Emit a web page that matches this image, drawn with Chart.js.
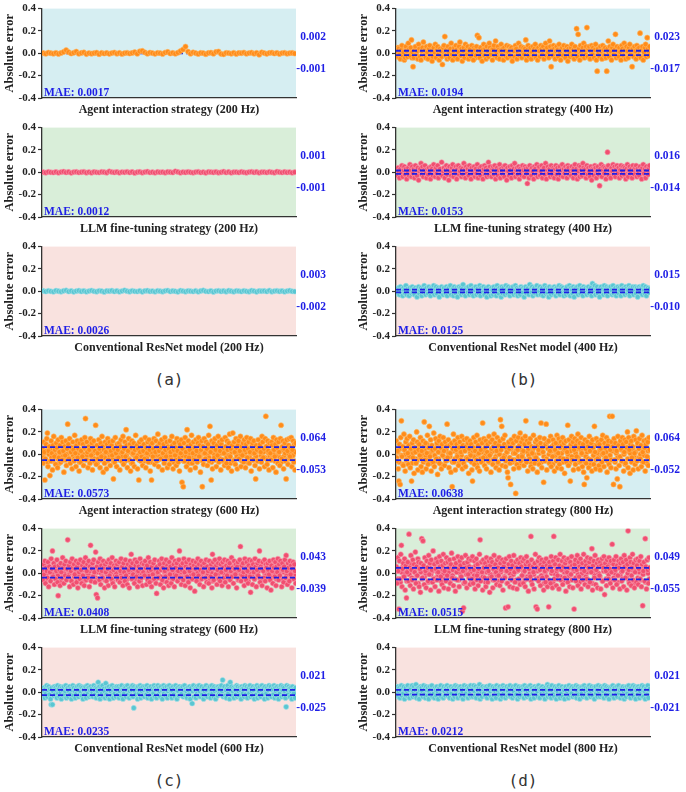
<!DOCTYPE html>
<html>
<head>
<meta charset="utf-8">
<script src="https://cdn.jsdelivr.net/npm/chart.js@4.4.0/dist/chart.umd.min.js"></script>
<style>
body { margin: 0; background: #fff; width: 686px; height: 792px; position: relative; overflow: hidden; }
canvas { position: absolute; }
.tag { position: absolute; width: 100px; text-align: center; font: 16px "DejaVu Sans Mono", monospace; line-height: 20px; color: #333; }
</style>
</head>
<body>
<div class="tag" style="left:119px;top:370px">(a)</div>
<div class="tag" style="left:473px;top:370px">(b)</div>
<div class="tag" style="left:119px;top:771px">(c)</div>
<div class="tag" style="left:473px;top:771px">(d)</div>
<script>
// frequencies and models
var freqs = ['200 Hz', '400 Hz', '600 Hz', '800 Hz'];
var models = ['Agent interaction strategy', 'LLM fine-tuning strategy', 'Conventional ResNet model'];
var yTicks = [-0.4, -0.2, 0.0, 0.2, 0.4];

// MAE and dashed bounds, one value per frequency
var maeAgent = [0.0017, 0.0194, 0.0573, 0.0638];
var maeLlm = [0.0012, 0.0153, 0.0408, 0.0515];
var maeResnet = [0.0026, 0.0125, 0.0235, 0.0212];
var upperAgent = [0.002, 0.023, 0.064, 0.064];
var lowerAgent = [-0.001, -0.017, -0.053, -0.052];
var upperLlm = [0.001, 0.016, 0.043, 0.049];
var lowerLlm = [-0.001, -0.014, -0.039, -0.055];
var upperResnet = [0.003, 0.015, 0.021, 0.021];
var lowerResnet = [-0.002, -0.010, -0.025, -0.021];

// absolute errors
var agent200 = [0.002,-0.004,0.006,0.001,-0.003,0.004,-0.006,0.003,0.012,0.028,0.010,-0.002,0.005,0.015,-0.004,0.003,0.008,-0.007,0.002,-0.003,
 0.001,0.006,-0.008,0.004,-0.002,0.003,-0.005,0.002,0.007,-0.003,0.004,-0.006,0.001,0.005,-0.002,0.003,0.010,-0.004,0.018,0.022,
 0.008,-0.003,0.006,0.002,-0.005,0.004,0.001,-0.006,0.007,0.012,-0.002,0.004,-0.004,0.006,0.020,0.034,0.060,0.015,-0.003,0.008,
 0.002,-0.006,0.004,0.001,-0.008,0.003,0.006,-0.004,0.012,0.016,-0.005,-0.009,0.004,0.002,-0.003,0.005,-0.006,0.003,0.001,0.007,
 -0.004,0.002,0.006,-0.003,0.004,-0.012,0.008,0.002,-0.005,0.003,0.006,-0.002,0.004,-0.006,0.002,0.005,-0.003,0.001,0.004,-0.002];
var llm200 = [0.001,-0.003,0.004,0.000,-0.002,0.003,-0.004,0.002,0.006,-0.001,0.003,-0.005,0.002,0.004,-0.002,0.001,0.005,-0.003,0.002,-0.004,
 0.003,0.000,-0.002,0.004,0.001,-0.003,0.008,0.002,-0.001,0.003,-0.004,0.002,0.000,0.005,-0.002,0.003,-0.006,0.001,0.004,-0.003,
 0.002,0.006,-0.002,0.001,-0.004,0.003,0.000,0.002,-0.003,0.004,0.001,-0.002,0.009,0.003,-0.004,0.002,-0.001,0.004,0.000,-0.003,
 0.002,0.005,-0.002,0.001,-0.005,0.003,0.002,-0.001,0.004,-0.003,0.000,0.006,-0.002,0.003,-0.004,0.001,0.002,-0.002,0.004,0.000,
 -0.003,0.002,0.005,-0.001,0.003,-0.004,0.001,0.002,-0.002,0.004,0.000,-0.003,0.006,0.001,-0.002,0.003,-0.001,0.002,-0.004,0.001];
var resnet200 = [0.003,-0.002,0.005,0.000,-0.004,0.006,0.001,-0.003,0.004,0.008,-0.002,0.003,-0.005,0.002,0.006,-0.001,0.004,-0.004,0.002,0.007,
 0.000,-0.003,0.005,0.002,-0.006,0.003,0.001,0.006,-0.002,0.004,-0.004,0.002,0.009,0.001,-0.003,0.005,0.000,-0.002,0.004,-0.005,
 0.003,0.006,-0.001,0.002,-0.004,0.005,0.001,-0.003,0.004,0.007,-0.002,0.003,0.000,-0.005,0.006,0.002,-0.003,0.004,0.001,-0.002,
 0.005,-0.004,0.003,0.008,0.000,-0.002,0.004,-0.006,0.002,0.005,-0.001,0.003,-0.003,0.006,0.001,-0.004,0.004,0.002,-0.002,0.005,
 0.000,-0.003,0.006,0.002,-0.005,0.003,0.001,0.004,-0.002,0.007,-0.003,0.002,0.005,-0.001,0.003,-0.004,0.002,0.006,0.000,-0.002];

var agent400 = [0.02,-0.03,0.05,0.04,-0.01,-0.05,0.03,0.07,-0.02,0.01,-0.06,-0.04,0.06,0.02,-0.03,0.09,0.04,-0.02,0.05,0.12,
 0.01,-0.12,-0.04,0.03,0.06,-0.01,0.02,-0.05,0.08,0.04,-0.03,-0.06,0.02,0.05,0.10,-0.02,0.03,-0.04,0.06,0.01,
 -0.05,0.04,0.07,-0.02,0.02,-0.07,-0.03,0.05,0.01,0.08,-0.04,0.03,0.06,-0.01,-0.06,0.04,0.02,-0.03,-0.10,0.05,
 0.07,0.15,-0.02,0.03,-0.05,0.06,0.01,-0.04,0.04,0.09,-0.01,-0.06,0.02,0.05,-0.03,0.07,0.03,-0.05,0.01,0.06,
 0.10,-0.02,0.04,-0.07,0.02,0.05,-0.04,0.08,0.03,-0.01,0.06,-0.05,0.02,0.04,-0.03,0.07,0.01,-0.06,0.05,0.03,
 -0.02,0.06,0.16,0.02,0.14,-0.04,0.05,0.01,-0.07,0.03,0.08,-0.02,0.04,-0.05,0.06,0.02,-0.03,0.09,0.05,-0.01,
 0.03,-0.06,0.04,0.07,-0.02,0.11,0.01,-0.04,0.06,0.03,-0.05,0.02,0.08,-0.01,0.04,-0.06,0.05,0.02,-0.03,0.07,
 -0.04,0.01,0.06,-0.02,0.04,0.05,-0.07,0.03,0.02,-0.03,0.07,0.04,-0.05,0.01,0.09,-0.02,0.03,0.06,-0.04,0.02,
 0.05,-0.01,0.04,0.12,-0.06,0.03,0.07,-0.03,0.02,0.05,-0.05,0.01,0.06,-0.02,0.04,0.08,-0.04,0.03,-0.06,0.05,
 0.02,-0.03,0.07,0.04,-0.01,0.06,-0.05,0.03,0.09,-0.02,0.05,0.01,-0.04,0.11,0.06,-0.12,0.03,-0.02,0.07,0.04,
 -0.05,0.02,0.06,0.03,-0.03,0.08,0.01,-0.06,0.04,0.05,-0.02,0.07,0.03,-0.04,0.02,0.06,-0.07,0.04,0.01,-0.03,
 0.05,0.08,-0.02,0.03,-0.05,0.06,0.02,0.22,-0.03,0.17,0.04,-0.06,0.07,0.01,-0.02,0.05,0.09,-0.04,0.03,0.06,
 0.23,-0.03,0.04,0.06,-0.05,0.02,0.07,-0.01,0.05,-0.04,0.03,0.08,-0.06,-0.16,0.04,0.01,-0.03,0.06,0.02,-0.05,
 0.07,0.03,-0.02,0.05,-0.04,-0.16,0.04,0.11,-0.03,0.06,0.02,-0.06,0.05,0.08,-0.01,0.03,0.17,-0.04,0.06,0.02,
 -0.03,0.05,0.01,-0.06,0.07,0.04,-0.02,0.09,0.03,-0.05,0.06,0.02,-0.04,0.05,0.08,-0.01,0.03,-0.12,0.04,-0.03,
 0.06,0.02,-0.05,0.07,0.04,-0.02,0.05,0.18,-0.04,0.03,0.06,-0.06,0.01,0.05,0.08,-0.03,0.14,0.04,-0.02,0.06];
var agent400Core = [-0.01,0.02,-0.03,0.00,0.03,-0.02,0.01,-0.04,0.02,0.00,-0.03,0.04,-0.01,0.01,-0.02,0.03,-0.04,0.00,0.02,-0.01,
 0.03,-0.03,0.01,-0.02,0.04,0.00,-0.04,0.02,-0.01,0.03,-0.02,0.01,0.00,-0.03,0.04,-0.01,0.02,-0.04,0.01,0.03,
 -0.02,0.00,0.03,-0.03,0.01,-0.01,0.04,-0.02,0.02,-0.04,0.00,0.03,-0.01,0.01,-0.03,0.02,0.04,-0.02,0.00,-0.01,
 0.02,-0.04,0.01,0.03,-0.02,0.00,-0.03,0.04,-0.01,0.02,0.01,-0.03,0.03,-0.02,0.00,0.04,-0.04,0.01,-0.01,0.02,
 -0.03,0.03,0.00,-0.02,0.01,0.04,-0.01,-0.04,0.02,0.00,0.03,-0.03,0.01,-0.02,0.04,-0.01,0.02,0.00,-0.04,0.03,
 0.01,-0.02,0.03,-0.01,0.00,-0.03,0.04,0.02,-0.04,0.01,-0.02,0.03,0.00,-0.01,0.02,-0.03,0.04,-0.02,0.01,0.00];
var llm400 = [0.02,-0.03,0.04,0.01,-0.05,0.03,-0.01,0.06,-0.04,0.02,0.05,-0.02,0.03,-0.06,0.01,0.04,-0.03,0.07,0.02,-0.04,
 0.05,-0.01,0.03,-0.05,0.06,0.02,-0.03,0.04,-0.07,0.01,0.03,0.08,-0.02,0.05,-0.04,0.02,0.06,-0.01,-0.05,0.03,
 -0.02,0.04,0.01,-0.06,0.05,0.03,-0.03,0.07,0.02,-0.04,0.04,-0.01,0.06,-0.05,0.02,0.03,-0.02,0.09,-0.03,0.01,
 0.04,-0.05,0.02,0.06,-0.02,0.03,-0.07,0.05,0.01,-0.03,0.04,0.07,-0.04,0.02,-0.01,0.05,-0.06,0.03,0.06,-0.02,
 0.01,0.04,-0.04,0.03,-0.02,0.08,0.02,-0.05,0.05,-0.01,0.03,-0.03,0.06,0.02,-0.06,0.04,0.01,-0.02,0.05,-0.04,
 0.03,-0.01,0.07,-0.05,0.02,0.04,-0.03,0.05,0.01,-0.06,0.03,0.06,-0.02,0.04,-0.04,0.02,0.09,-0.03,0.05,0.01,
 -0.04,0.03,0.05,-0.02,0.06,-0.06,0.01,0.04,-0.03,0.02,0.07,-0.05,0.03,0.01,-0.02,0.05,-0.04,0.06,0.02,-0.07,
 0.04,0.01,-0.03,0.05,0.02,-0.05,0.06,-0.01,0.03,0.08,-0.04,0.02,0.04,-0.02,0.05,-0.06,0.03,0.01,-0.03,0.06,
 0.02,-0.04,0.05,0.03,-0.01,-0.10,0.04,-0.05,0.06,0.02,-0.03,0.04,0.01,-0.06,0.05,0.03,-0.02,0.07,-0.04,0.02,
 0.05,-0.03,0.01,0.06,-0.05,0.03,0.04,-0.02,0.08,-0.06,0.02,0.05,-0.01,0.03,-0.04,0.06,0.01,-0.03,0.04,-0.05,
 0.03,0.06,-0.02,0.04,-0.06,0.01,0.05,-0.03,0.02,0.07,-0.04,0.03,-0.01,0.05,0.02,-0.05,0.06,0.04,-0.02,0.01,
 -0.03,0.05,0.02,-0.05,0.04,0.07,-0.02,0.03,-0.06,0.01,0.06,-0.04,0.05,0.02,-0.03,0.08,0.04,-0.01,0.03,-0.05,
 0.06,-0.02,0.04,0.01,-0.04,0.05,-0.07,0.03,0.02,-0.03,0.06,0.04,-0.05,0.01,0.05,-0.02,-0.12,0.03,0.07,-0.04,
 0.02,0.05,-0.01,0.04,-0.06,0.03,0.18,0.06,-0.03,0.02,-0.05,0.04,0.01,0.07,-0.02,0.05,-0.04,0.03,0.06,-0.01,
 0.04,-0.05,0.02,0.06,-0.03,0.01,0.05,-0.02,0.04,-0.06,0.03,0.07,-0.04,0.02,0.05,-0.01,0.03,-0.05,0.06,0.02,
 -0.02,0.04,0.06,-0.04,0.03,0.01,-0.03,0.05,0.02,-0.06,0.04,0.07,-0.01,0.03,-0.05,0.05,0.02,-0.02,0.04,0.06];
var llm400Core = [0.01,-0.02,0.03,-0.01,0.00,0.02,-0.03,0.01,-0.02,0.03,0.00,-0.01,0.02,-0.03,0.01,0.00,-0.02,0.03,-0.01,0.02,
 -0.03,0.00,0.01,-0.02,0.03,-0.01,0.02,0.00,-0.03,0.01,-0.02,0.03,0.00,-0.01,0.02,-0.03,0.01,-0.02,0.00,0.03,
 -0.01,0.02,-0.03,0.00,0.01,-0.02,0.03,-0.01,0.00,0.02,-0.03,0.01,0.03,-0.02,0.00,-0.01,0.02,-0.03,0.01,0.00,
 0.03,-0.02,0.01,-0.01,0.00,0.02,-0.03,0.03,-0.02,0.01,0.00,-0.01,0.02,-0.03,0.01,0.03,-0.02,0.00,-0.01,0.02,
 -0.03,0.01,0.00,0.03,-0.02,0.02,-0.01,0.00,-0.03,0.01,0.02,-0.02,0.03,0.00,-0.01,0.01,-0.03,0.02,0.00,-0.02,
 0.03,-0.01,0.01,0.00,-0.02,0.02,-0.03,0.01,0.03,-0.01,0.00,-0.02,0.02,-0.03,0.01,0.00,0.03,-0.02,0.01,-0.01];
var resnet400 = [0.02,-0.02,0.03,0.01,-0.03,0.04,-0.01,0.02,-0.04,0.03,0.01,-0.02,0.05,-0.03,0.02,0.00,-0.04,0.03,0.01,-0.02,
 0.04,-0.01,0.02,-0.03,0.03,0.01,-0.05,0.02,0.04,-0.02,0.01,0.03,-0.04,0.02,-0.01,0.05,0.02,-0.03,0.03,0.00,
 -0.02,0.04,0.01,-0.04,0.03,0.02,-0.01,0.05,-0.03,0.02,0.04,-0.02,0.01,0.03,-0.05,0.02,-0.01,0.04,0.01,-0.03,
 0.03,0.00,-0.02,0.04,-0.04,0.02,0.03,-0.01,0.05,-0.03,0.01,0.02,-0.04,0.04,0.01,-0.02,0.03,-0.05,0.02,0.04,
 -0.01,0.03,-0.03,0.02,0.06,-0.02,0.01,-0.04,0.03,0.02,-0.01,0.04,-0.03,0.01,0.05,-0.02,0.02,-0.04,0.03,0.01,
 0.04,-0.03,0.02,0.00,-0.02,0.05,-0.04,0.03,0.01,-0.01,0.04,-0.03,0.02,0.03,-0.05,0.01,0.04,-0.02,0.02,-0.04,
 0.03,0.01,-0.03,0.04,-0.01,0.02,-0.04,0.05,0.02,-0.02,0.03,0.01,-0.05,0.04,-0.02,0.03,0.00,-0.03,0.05,0.02,
 -0.02,0.04,0.01,-0.04,0.03,-0.01,0.02,0.04,-0.03,0.01,0.05,-0.02,0.03,-0.04,0.02,0.01,-0.03,0.04,0.02,-0.01,
 0.03,-0.05,0.02,0.04,-0.02,0.01,0.03,-0.03,0.06,0.02,-0.01,0.04,-0.04,0.02,0.03,-0.02,0.01,0.05,-0.03,0.02,
 0.00,0.04,-0.03,0.02,0.03,-0.04,0.01,0.05,-0.02,0.03,-0.01,0.02,-0.05,0.04,0.01,-0.03,0.03,0.02,-0.02,0.04,
 0.02,-0.04,0.03,0.01,-0.02,0.05,-0.03,0.02,0.04,-0.01,0.03,-0.04,0.01,0.02,-0.03,0.04,0.00,-0.02,0.05,-0.04,
 0.03,0.01,-0.02,0.04,-0.05,0.02,0.03,-0.01,0.04,-0.03,0.02,0.05,-0.02,0.01,0.03,-0.04,0.04,0.02,-0.01,0.03,
 -0.03,0.02,0.04,-0.02,0.01,0.03,-0.04,0.07,0.02,-0.01,0.05,-0.03,0.02,0.04,-0.02,0.01,-0.05,0.03,0.04,-0.01,
 0.02,-0.03,0.05,0.01,-0.02,0.04,-0.04,0.03,0.02,-0.01,0.04,0.01,-0.03,0.05,-0.02,0.02,0.03,-0.04,0.01,0.04,
 -0.02,0.03,0.01,-0.04,0.05,0.02,-0.01,0.03,-0.03,0.04,0.02,-0.02,0.01,0.05,-0.04,0.03,0.02,-0.01,0.04,-0.03,
 0.01,0.04,-0.02,0.03,-0.05,0.02,0.04,-0.01,0.03,0.02,-0.03,0.05,0.01,-0.02,0.04,-0.04,0.02,0.03,-0.01,0.02];

var agent600 = [0.05,-0.08,0.11,0.02,-0.23,-0.04,0.09,0.14,0.19,-0.11,0.03,0.07,-0.19,-0.06,0.12,0.01,-0.14,0.08,0.16,-0.02,
 0.04,-0.09,0.10,0.06,-0.12,0.13,-0.03,0.02,0.08,-0.07,0.15,-0.05,0.11,0.03,-0.16,0.07,-0.01,0.12,-0.10,0.05,
 0.27,0.09,-0.04,0.14,-0.08,0.02,0.06,-0.13,0.11,0.04,-0.06,0.17,0.01,-0.11,0.08,0.12,-0.03,0.05,-0.15,0.10,
 -0.07,0.03,0.13,-0.02,0.09,-0.10,0.06,0.15,0.32,-0.05,0.11,0.02,-0.12,0.07,0.04,-0.08,0.14,-0.01,0.10,-0.14,
 0.06,0.12,-0.06,0.03,0.26,-0.09,0.08,0.01,-0.04,0.13,0.05,-0.12,0.10,-0.02,0.16,0.07,-0.16,0.04,-0.08,0.11,
 0.02,-0.13,0.09,0.14,-0.05,0.06,0.11,-0.10,0.03,0.08,-0.01,0.12,-0.22,0.05,-0.07,0.15,0.01,-0.11,0.09,0.04,
 -0.03,0.10,-0.14,0.07,0.13,-0.06,0.02,0.16,-0.09,0.05,0.11,-0.02,0.22,0.08,-0.12,0.03,0.14,-0.05,0.09,-0.15,
 0.06,0.12,-0.08,0.01,0.10,-0.11,0.04,0.17,-0.03,0.08,-0.13,0.05,-0.23,0.11,0.02,-0.06,0.13,0.07,-0.10,0.03,
 0.09,-0.04,0.15,-0.12,0.06,0.01,0.11,-0.07,0.13,0.04,-0.15,0.08,-0.23,0.10,-0.02,0.05,0.14,-0.09,0.02,0.12,
 -0.06,0.07,0.18,-0.11,0.03,0.10,-0.04,0.06,0.13,-0.14,0.01,0.09,-0.08,0.15,0.04,-0.02,0.11,-0.12,0.07,0.05,
 -0.09,0.12,0.02,-0.05,0.16,0.08,-0.13,0.04,0.10,-0.01,0.06,-0.10,0.14,0.03,-0.07,0.11,-0.15,0.09,0.01,0.13,
 -0.25,0.05,-0.29,0.10,-0.06,0.15,0.02,-0.11,0.22,0.07,0.12,-0.03,0.04,-0.14,0.09,0.17,-0.08,0.01,0.11,-0.05,
 0.06,-0.12,0.13,0.03,-0.07,0.10,0.15,-0.02,0.08,-0.16,0.04,0.12,-0.29,0.07,-0.09,0.14,0.01,-0.04,0.11,0.05,
 -0.10,0.09,0.17,-0.06,0.25,0.02,-0.23,0.12,-0.13,0.06,0.10,-0.03,0.14,0.04,-0.11,0.08,-0.01,0.16,-0.07,0.11,
 0.03,-0.14,0.09,0.13,-0.05,0.06,0.01,-0.10,0.15,0.07,-0.08,0.12,0.04,-0.12,0.10,0.18,-0.02,0.05,-0.15,0.08,
 0.19,-0.06,0.11,0.02,-0.09,0.14,0.06,-0.13,0.08,0.12,-0.04,0.03,0.16,-0.11,0.07,-0.01,0.10,-0.07,0.13,0.04,
 -0.12,0.09,0.15,-0.03,0.05,0.11,-0.08,0.02,0.14,-0.15,0.07,0.10,-0.05,0.12,0.01,-0.10,-0.22,0.08,0.04,-0.06,
 0.13,0.06,-0.13,0.09,0.02,-0.07,0.16,0.11,-0.03,0.05,-0.11,0.14,0.34,0.07,-0.09,0.12,0.03,-0.14,0.10,0.01,
 -0.05,0.11,0.08,-0.12,0.15,0.04,-0.02,0.09,-0.16,0.13,0.06,-0.08,0.11,0.02,-0.10,0.14,0.26,-0.04,0.07,0.12,
 -0.13,0.05,0.10,-0.06,-0.22,0.13,0.03,-0.09,0.08,0.14,-0.02,0.06,0.15,-0.11,0.04,0.12,-0.07,0.09,-0.14,0.10];
var agent600Core = [-0.02,0.01,-0.05,0.03,-0.07,0.00,0.04,-0.03,-0.06,0.02,-0.01,0.05,-0.04,-0.08,0.01,0.03,-0.02,0.06,-0.05,0.00,
 -0.03,0.04,-0.06,0.02,-0.01,-0.04,0.07,-0.02,0.01,-0.07,0.03,-0.05,0.00,0.05,-0.03,-0.01,0.02,-0.06,0.04,-0.02,
 0.01,-0.04,0.03,-0.08,0.00,0.02,-0.05,0.06,-0.01,-0.03,0.04,-0.06,0.01,-0.02,0.05,-0.04,-0.07,0.02,0.00,-0.03,
 0.03,-0.05,0.01,-0.02,0.06,-0.06,-0.01,0.04,-0.04,0.02,-0.08,0.00,0.03,-0.03,0.05,-0.01,-0.05,0.02,-0.02,0.07,
 -0.06,0.01,-0.03,0.04,0.00,-0.07,0.02,-0.04,0.05,-0.01,0.03,-0.05,-0.02,0.06,-0.03,0.01,-0.06,0.04,0.00,-0.04,
 0.02,-0.02,0.05,-0.07,0.01,-0.05,0.03,0.00,-0.03,0.06,-0.01,-0.06,0.04,-0.02,0.02,-0.08,0.01,-0.04,0.05,-0.03,
 0.00,0.03,-0.05,0.02,-0.02,0.07,-0.06,0.01,-0.04,0.04,-0.01,-0.03,0.06,-0.07,0.02,0.00,-0.05,0.03,-0.02,0.05,
 -0.04,0.01,-0.06,0.03,0.00,-0.03,0.05,-0.01,-0.08,0.02,0.04,-0.05,0.01,-0.02,0.06,-0.04,0.00,-0.06,0.03,-0.01,
 0.02,-0.07,0.04,-0.03,0.01,0.05,-0.05,0.00,-0.02,0.03,-0.06,0.06,-0.01,-0.04,0.02,-0.03,0.07,-0.05,0.01,-0.02,
 -0.04,0.03,0.00,-0.06,0.05,-0.01,0.02,-0.03,-0.07,0.04,-0.02,0.01,-0.05,0.06,0.00,-0.04,0.03,-0.01,-0.06,0.02];
var llm600 = [0.03,-0.06,0.08,-0.01,0.11,-0.09,0.05,0.02,-0.04,0.10,-0.12,0.06,0.01,-0.07,0.13,0.04,0.20,-0.03,0.09,-0.10,
 0.06,-0.05,0.02,0.12,-0.08,-0.20,0.07,0.03,-0.11,0.09,0.01,-0.04,0.14,0.05,-0.09,0.08,-0.02,0.11,-0.06,0.04,
 0.30,-0.03,0.07,-0.12,0.10,0.02,-0.07,0.13,0.05,-0.10,0.08,-0.01,0.04,0.11,-0.08,0.06,-0.13,0.09,0.01,-0.05,
 0.12,0.03,-0.09,0.07,-0.02,0.10,-0.11,0.05,0.14,-0.06,0.02,0.08,-0.04,0.11,-0.12,0.06,0.25,-0.07,0.04,0.09,
 -0.03,0.12,0.01,-0.08,0.19,-0.19,0.06,-0.22,0.10,0.03,-0.06,0.13,-0.10,0.07,0.02,-0.04,0.11,0.05,-0.13,0.08,
 0.01,-0.07,0.10,0.04,-0.11,0.12,-0.02,0.06,0.09,-0.05,0.14,-0.09,0.03,0.07,-0.12,0.05,0.11,-0.03,0.08,-0.06,
 0.04,0.10,-0.08,0.02,0.13,-0.04,0.06,-0.11,0.09,0.01,-0.07,0.12,-0.02,0.05,-0.10,0.08,0.03,-0.13,0.11,0.06,
 0.17,-0.05,0.09,-0.01,0.04,-0.09,0.12,0.07,-0.03,0.10,-0.12,0.02,0.06,-0.07,0.13,0.04,-0.04,0.09,-0.11,0.01,
 0.08,-0.02,0.11,0.05,-0.10,0.07,-0.06,0.14,0.02,-0.08,0.10,0.03,-0.12,0.06,-0.01,0.09,-0.05,0.12,0.04,-0.09,
 -0.18,0.06,0.01,-0.04,0.11,0.08,-0.10,0.03,0.13,-0.06,0.05,-0.13,0.09,0.02,-0.03,0.12,-0.08,0.07,0.04,-0.11,
 0.10,-0.01,0.06,-0.09,0.14,0.03,-0.05,0.08,-0.12,0.11,0.05,-0.02,0.09,-0.07,0.02,0.12,0.20,-0.04,0.07,-0.10,
 0.03,0.09,-0.06,0.13,0.01,-0.11,0.06,0.10,-0.03,0.04,-0.08,0.12,0.02,-0.13,0.08,0.05,-0.05,0.11,-0.01,0.07,
 -0.16,0.04,0.10,-0.07,0.06,0.13,-0.02,0.08,-0.10,0.03,0.11,-0.05,0.07,0.01,-0.12,0.09,0.05,-0.04,0.12,-0.08,
 0.06,0.02,-0.09,0.11,0.04,-0.03,0.08,-0.13,0.17,0.10,-0.06,0.05,0.12,-0.01,0.07,-0.10,0.03,0.09,-0.05,0.13,
 -0.07,0.08,0.01,-0.11,0.10,0.05,-0.04,0.12,-0.08,0.03,0.07,-0.02,0.11,-0.12,0.06,0.09,-0.06,0.02,0.14,-0.03,
 0.05,-0.09,0.11,0.04,-0.01,0.08,-0.13,0.06,0.10,-0.05,0.03,0.12,0.24,-0.07,0.07,-0.02,0.09,0.01,-0.11,0.13,
 0.04,-0.06,0.10,0.02,-0.09,0.07,0.12,-0.03,-0.17,0.05,0.11,-0.10,0.08,0.01,-0.05,0.13,0.06,-0.12,0.03,0.09,
 -0.02,0.11,0.20,-0.08,0.06,0.04,-0.11,0.10,0.02,-0.04,0.12,-0.07,0.08,0.05,-0.13,0.09,0.03,-0.01,0.11,-0.06,
 -0.15,0.07,0.02,-0.09,0.12,0.05,-0.03,0.10,-0.11,0.06,0.01,0.13,-0.06,0.08,-0.02,0.11,0.04,-0.12,0.09,0.03,
 -0.08,0.06,0.12,-0.04,0.16,0.02,-0.10,0.09,0.05,-0.07,0.11,-0.01,0.07,-0.13,0.04,0.10,-0.05,0.08,0.02,-0.09];
var llm600Core = [0.01,-0.03,0.04,-0.05,0.00,0.02,-0.06,0.03,-0.01,0.05,-0.04,0.01,-0.02,0.06,-0.07,0.02,-0.03,0.00,0.04,-0.05,
 0.03,-0.01,-0.06,0.02,0.05,-0.03,0.00,-0.04,0.06,-0.02,0.01,-0.05,0.03,-0.07,0.04,0.00,-0.01,0.02,-0.06,0.05,
 -0.02,0.03,-0.04,0.01,-0.05,0.06,0.00,-0.03,0.02,-0.06,0.04,-0.01,0.05,-0.04,0.01,-0.07,0.03,-0.02,0.00,0.06,
 -0.05,0.02,-0.01,0.04,-0.03,0.00,-0.06,0.05,0.01,-0.04,0.03,-0.02,0.06,-0.05,0.02,-0.01,0.04,-0.07,0.00,0.03,
 -0.03,0.05,-0.04,0.01,-0.02,0.06,-0.06,0.02,0.00,-0.05,0.04,-0.01,0.03,-0.03,0.05,-0.07,0.01,-0.02,0.04,-0.04,
 0.02,0.00,-0.05,0.06,-0.01,0.03,-0.06,0.04,-0.02,0.01,-0.04,0.05,0.00,-0.03,0.02,-0.07,0.06,-0.01,0.03,-0.05,
 0.04,-0.02,0.01,-0.06,0.05,-0.03,0.00,0.02,-0.04,0.06,-0.01,-0.05,0.03,0.01,-0.07,0.04,-0.02,0.05,-0.03,0.00,
 -0.06,0.02,0.04,-0.01,-0.04,0.05,0.01,-0.05,0.03,-0.02,0.06,0.00,-0.03,0.02,-0.06,0.04,-0.01,0.01,-0.04,0.05,
 -0.02,0.03,-0.07,0.00,0.04,-0.03,0.06,-0.05,0.01,-0.01,0.02,-0.04,0.05,-0.06,0.03,0.00,-0.02,0.04,-0.05,0.01,
 0.06,-0.03,0.02,-0.01,-0.05,0.03,0.00,-0.04,0.05,-0.06,0.01,0.04,-0.02,0.02,-0.07,0.03,-0.03,0.06,0.00,-0.01];
var resnet600 = [0.02,-0.03,0.04,0.01,-0.05,0.03,-0.01,0.06,-0.04,0.02,0.05,-0.02,0.03,-0.06,-0.11,0.04,-0.11,0.01,-0.03,0.05,
 -0.02,0.04,0.02,-0.05,0.06,-0.01,0.03,-0.04,0.05,0.00,-0.06,0.04,0.02,-0.03,0.05,-0.02,0.01,0.06,-0.05,0.03,
 0.04,-0.04,0.01,0.05,-0.02,0.03,-0.06,0.02,0.06,-0.03,0.04,0.01,-0.05,0.03,-0.01,0.05,0.02,-0.04,0.06,-0.02,
 0.01,0.05,-0.03,0.04,-0.06,0.02,0.03,-0.02,0.05,-0.05,0.01,0.06,-0.01,0.04,-0.04,0.02,0.05,-0.03,0.03,0.00,
 -0.04,0.06,0.02,-0.02,0.04,-0.05,0.03,0.01,0.09,-0.03,0.05,-0.06,0.02,0.04,-0.01,0.06,-0.04,0.03,0.01,-0.05,
 0.08,-0.02,0.04,-0.04,0.02,0.05,-0.06,0.03,0.01,-0.03,0.06,0.02,-0.05,0.04,-0.01,0.03,-0.04,0.05,0.02,-0.02,
 0.05,-0.05,0.01,0.04,-0.03,0.06,0.02,-0.06,0.03,-0.01,0.05,0.04,-0.04,0.02,0.06,-0.02,0.03,-0.05,0.01,0.04,
 -0.03,0.02,0.06,-0.04,-0.14,0.05,0.01,-0.02,0.04,0.03,-0.06,0.05,-0.01,0.02,0.06,-0.05,0.04,0.01,-0.03,0.05,
 0.02,-0.04,0.05,0.03,-0.02,0.06,-0.05,0.01,0.04,-0.03,0.02,0.05,-0.06,0.03,0.01,-0.01,0.06,-0.04,0.04,0.02,
 -0.05,0.03,0.06,-0.02,0.04,0.01,-0.04,0.05,0.02,-0.06,0.03,0.06,-0.01,0.04,-0.03,0.02,0.05,-0.05,0.01,0.03,
 0.06,-0.03,0.02,0.04,-0.05,0.01,0.05,-0.02,0.03,-0.04,0.06,0.02,-0.06,0.04,0.01,-0.03,0.05,0.03,-0.02,0.04,
 -0.01,0.05,-0.04,0.02,0.06,-0.03,0.03,0.01,-0.05,0.04,0.02,-0.02,0.05,-0.06,0.03,0.04,-0.10,0.01,0.06,-0.04,
 0.03,0.02,-0.05,0.05,-0.01,0.04,-0.03,0.06,0.01,-0.04,0.03,0.05,-0.02,0.02,-0.06,0.04,0.01,-0.03,0.06,0.02,
 -0.04,0.04,0.03,-0.02,0.05,-0.05,0.02,0.06,-0.01,0.03,-0.04,0.05,0.01,-0.06,0.04,0.02,-0.03,0.05,0.03,-0.01,
 0.04,-0.02,0.06,0.01,0.11,-0.04,0.03,0.05,-0.03,0.02,-0.05,0.04,0.06,-0.01,0.03,-0.06,0.09,0.02,0.05,-0.03,
 0.01,0.04,-0.05,0.03,0.02,-0.02,0.06,-0.04,0.05,0.01,-0.03,0.04,0.02,-0.06,0.05,0.03,-0.01,0.04,-0.04,0.06,
 -0.02,0.03,0.05,-0.05,0.02,0.04,-0.01,0.06,-0.04,0.03,0.01,-0.03,0.05,0.02,-0.06,0.04,0.03,-0.02,0.06,-0.05,
 0.04,0.01,-0.03,0.05,-0.04,0.02,0.06,-0.02,0.03,0.04,-0.06,0.05,0.01,-0.01,0.04,-0.05,0.02,0.06,-0.03,0.03,
 0.05,-0.04,0.02,0.03,-0.02,0.06,-0.05,0.04,0.01,-0.03,0.05,0.02,-0.06,0.04,-0.01,0.03,0.06,-0.04,0.02,0.05,
 -0.03,0.04,0.01,-0.05,-0.13,0.06,0.02,-0.02,0.05,0.03,-0.04,0.04,0.01,-0.06,0.05,0.02,-0.01,0.03,-0.05,0.04];

var agent800 = [0.12,-0.06,0.03,-0.13,-0.24,0.09,-0.27,0.15,0.30,-0.02,0.07,-0.10,0.18,0.04,-0.15,0.11,-0.05,0.14,0.01,-0.09,
 0.08,0.16,-0.12,0.05,-0.24,0.10,-0.03,0.13,-0.17,0.06,0.02,-0.08,0.20,0.11,-0.14,0.04,0.09,-0.01,0.15,-0.11,
 0.03,-0.16,0.12,0.07,0.29,-0.05,0.10,-0.13,0.01,0.17,-0.09,0.06,0.25,-0.02,0.13,-0.15,0.08,0.04,-0.07,0.19,
 -0.11,0.05,0.14,-0.04,0.10,-0.18,0.02,0.12,-0.08,0.16,0.06,-0.13,0.09,-0.01,0.15,0.03,-0.10,0.11,-0.06,0.07,
 0.27,-0.03,0.13,-0.12,0.08,0.01,-0.16,0.10,-0.29,0.05,0.18,-0.07,0.12,-0.14,0.04,0.09,-0.02,0.15,-0.10,0.06,
 0.11,-0.05,0.02,0.16,-0.13,0.08,-0.08,0.13,0.03,-0.11,0.07,0.14,-0.04,0.10,-0.17,0.05,0.12,-0.01,0.09,-0.14,
 -0.24,0.06,0.15,-0.09,0.03,0.11,-0.05,0.17,-0.12,0.08,0.01,-0.15,0.13,0.04,-0.07,0.10,0.28,-0.03,0.14,-0.10,
 0.06,0.12,-0.13,0.02,0.09,-0.06,0.16,-0.01,0.11,-0.16,0.05,0.13,-0.09,0.07,0.18,-0.04,0.10,-0.12,0.03,0.15,
 -0.07,0.08,-0.14,0.12,0.31,0.04,0.25,-0.10,0.14,-0.03,0.09,0.17,-0.11,0.06,0.02,-0.16,-0.21,0.11,0.05,-0.08,
 -0.27,0.13,0.07,-0.05,0.10,-0.13,0.16,0.01,-0.35,0.12,-0.09,0.04,0.15,-0.12,0.08,0.19,-0.06,0.11,-0.02,0.14,
 0.03,-0.10,0.09,0.16,0.30,-0.07,0.12,-0.15,0.05,0.10,-0.04,0.14,-0.11,0.07,0.01,-0.13,0.17,0.06,-0.08,0.11,
 -0.03,0.13,-0.16,0.08,0.04,-0.09,0.15,0.10,0.28,-0.12,0.06,0.02,-0.25,0.14,-0.06,0.09,0.27,-0.14,0.11,0.05,
 0.12,-0.08,0.03,0.16,-0.11,0.07,-0.02,0.13,0.09,-0.15,0.04,0.10,-0.06,0.17,-0.12,0.01,0.14,-0.09,0.06,0.11,
 -0.13,0.08,0.15,-0.04,0.10,-0.17,0.05,0.12,-0.07,0.02,0.26,-0.10,0.13,0.07,-0.24,0.09,0.16,-0.05,0.11,-0.14,
 0.04,0.14,-0.09,0.08,-0.02,0.12,0.18,-0.13,0.06,0.10,-0.06,0.15,0.01,-0.11,0.09,-0.16,-0.27,0.13,0.05,-0.08,
 -0.21,0.11,0.07,-0.12,0.16,0.03,-0.05,0.10,-0.15,0.13,0.06,-0.09,0.25,0.02,-0.13,0.14,0.08,-0.04,0.11,-0.10,
 0.09,-0.14,0.05,0.13,-0.07,0.17,0.01,-0.11,0.10,0.06,-0.03,0.15,-0.16,0.08,0.12,-0.09,0.34,0.04,-0.12,0.11,
 0.34,0.07,-0.27,0.14,-0.05,0.10,-0.13,0.03,-0.22,0.16,0.08,-0.10,-0.29,0.12,0.05,-0.06,0.15,0.09,-0.15,0.02,
 0.13,-0.08,0.11,0.06,0.20,-0.12,0.15,0.04,-0.17,0.09,0.12,-0.03,0.07,-0.14,0.16,0.01,-0.09,0.13,0.21,-0.06,
 0.10,-0.13,0.05,0.14,-0.04,0.08,-0.11,0.17,0.02,-0.07,0.12,0.06,-0.15,0.09,0.13,-0.02,0.11,-0.10,0.15,0.04];
var agent800Core = [-0.03,0.02,-0.07,0.05,-0.01,-0.09,0.04,0.00,-0.05,0.07,-0.02,0.03,-0.08,0.01,0.06,-0.04,-0.06,0.02,0.08,-0.03,
 0.00,-0.07,0.04,-0.02,0.09,-0.05,0.01,-0.08,0.03,0.05,-0.01,-0.06,0.07,-0.04,0.02,-0.09,0.00,0.06,-0.03,0.04,
 -0.05,0.01,-0.02,0.08,-0.07,0.03,-0.04,0.05,0.00,-0.08,0.02,-0.01,0.06,-0.06,0.04,-0.03,0.09,-0.05,0.01,-0.07,
 0.03,-0.02,0.05,-0.09,0.00,0.07,-0.04,0.02,-0.06,0.04,-0.01,0.08,-0.03,-0.07,0.01,0.05,-0.05,0.03,-0.02,0.06,
 -0.08,0.00,0.04,-0.04,0.07,-0.01,-0.06,0.02,0.09,-0.03,0.05,-0.07,0.01,-0.05,0.03,0.06,-0.02,-0.09,0.04,0.00,
 -0.04,0.08,-0.06,0.02,-0.01,0.05,-0.08,0.03,0.00,-0.03,0.07,-0.05,0.01,0.04,-0.07,0.02,-0.02,0.09,-0.04,0.06,
 0.00,-0.06,0.03,-0.09,0.05,-0.01,0.02,-0.05,0.08,-0.03,0.01,-0.07,0.04,0.06,-0.04,0.00,-0.08,0.03,-0.02,0.07,
 -0.05,0.01,0.05,-0.03,-0.07,0.04,0.00,-0.06,0.09,-0.02,0.02,-0.04,0.06,-0.09,0.03,-0.01,0.08,-0.05,0.01,-0.03,
 0.04,-0.08,0.00,0.06,-0.04,0.02,-0.06,0.07,-0.01,-0.05,0.03,0.05,-0.07,0.01,-0.03,0.09,-0.02,0.04,-0.06,0.00,
 -0.09,0.03,-0.04,0.06,0.01,-0.07,0.05,-0.02,0.02,-0.05,0.08,-0.03,0.00,-0.06,0.04,-0.01,0.07,-0.08,0.03,-0.04];
var llm800 = [0.06,-0.09,0.14,0.02,-0.32,0.11,-0.05,0.17,0.25,-0.12,0.04,0.09,-0.03,0.13,-0.15,0.07,-0.22,0.01,0.10,-0.07,
 0.35,0.05,-0.11,0.16,0.03,-0.06,0.12,-0.14,0.08,0.01,0.19,-0.09,0.06,-0.02,0.13,0.10,-0.12,0.04,-0.17,0.09,
 0.31,-0.04,0.29,0.07,-0.10,0.14,0.02,-0.13,0.11,0.05,-0.07,0.16,-0.01,0.09,-0.15,0.12,0.03,-0.08,0.20,-0.05,
 0.08,-0.12,0.04,0.13,-0.06,0.10,0.01,-0.16,0.15,0.06,-0.03,0.11,-0.10,0.07,0.17,-0.13,0.02,0.09,-0.07,0.14,
 -0.02,0.10,-0.14,0.05,0.12,-0.09,0.08,0.18,-0.04,0.03,-0.11,0.13,0.06,-0.16,0.09,0.01,-0.06,0.15,0.04,-0.12,
 0.11,0.07,-0.03,0.14,-0.34,0.02,-0.31,0.09,-0.08,0.16,0.05,-0.13,0.10,-0.01,0.13,0.06,-0.10,0.04,0.12,-0.05,
 0.15,-0.09,0.03,0.11,-0.14,0.07,0.13,-0.02,0.08,-0.11,0.04,0.17,0.30,-0.07,0.10,0.01,-0.15,0.12,0.05,-0.04,
 0.09,-0.12,0.14,0.06,-0.08,0.02,0.11,-0.17,0.07,0.13,-0.03,0.10,-0.13,0.04,0.16,-0.06,0.08,0.01,-0.10,0.12,
 0.05,-0.02,0.14,-0.11,0.09,0.03,-0.07,0.12,-0.15,0.06,0.10,-0.04,-0.31,0.13,0.02,-0.09,-0.30,0.08,0.15,-0.12,
 0.04,0.11,-0.06,0.07,-0.13,0.16,0.01,-0.08,0.10,0.05,-0.14,0.12,0.03,-0.05,0.09,-0.10,0.14,0.06,-0.02,0.11,
 -0.09,0.13,0.02,-0.12,0.08,0.15,-0.05,0.10,-0.16,0.04,0.07,-0.03,0.33,0.12,-0.10,0.06,0.01,-0.14,0.09,0.17,
 -0.30,0.05,-0.32,0.11,-0.07,0.14,0.03,-0.11,0.08,0.12,-0.04,0.06,-0.15,0.10,0.02,-0.08,0.13,0.07,-0.12,0.04,
 -0.30,0.10,0.06,-0.09,0.15,0.02,-0.13,0.11,0.33,-0.05,0.08,0.14,-0.11,0.04,-0.02,0.12,-0.14,0.07,0.17,-0.06,
 0.03,0.11,-0.10,0.06,0.14,-0.04,0.09,-0.16,0.12,0.01,-0.08,0.13,0.05,-0.12,0.10,-0.01,0.15,0.07,-0.13,0.04,
 -0.32,0.08,0.12,-0.07,0.03,0.16,-0.11,0.10,-0.03,0.06,0.13,-0.14,0.04,0.09,-0.06,0.17,0.02,-0.10,0.11,0.07,
 -0.05,0.14,-0.12,0.05,0.10,-0.08,0.13,0.01,0.22,-0.15,0.07,0.11,-0.04,0.16,-0.10,0.03,0.09,-0.13,0.12,0.06,
 -0.02,0.10,-0.14,0.07,0.13,-0.07,0.05,0.15,-0.19,0.09,0.02,-0.11,0.12,0.06,-0.05,0.14,0.04,-0.09,0.11,0.01,
 0.26,-0.13,0.08,0.12,-0.06,0.03,0.15,-0.10,0.07,-0.02,0.11,0.05,-0.14,0.09,0.13,-0.07,0.02,0.10,-0.12,0.16,
 0.06,-0.04,0.12,-0.15,0.08,0.38,0.03,-0.09,0.14,0.10,-0.11,0.05,0.17,-0.06,0.09,-0.13,0.01,0.12,-0.08,0.07,
 0.13,-0.10,0.04,0.11,-0.05,0.15,-0.12,0.08,-0.29,0.02,0.10,-0.07,0.31,0.06,-0.14,0.12,0.03,-0.09,0.14,0.05];
var llm800Core = [0.02,-0.05,0.04,-0.08,0.01,0.06,-0.03,0.00,-0.07,0.03,-0.01,0.08,-0.04,0.02,-0.06,0.05,-0.02,-0.09,0.04,0.01,
 -0.05,0.07,-0.03,0.00,0.03,-0.08,0.05,-0.01,0.02,-0.06,0.09,-0.04,0.01,-0.02,0.06,-0.07,0.03,0.00,-0.05,0.04,
 -0.03,0.01,-0.08,0.06,-0.02,0.04,-0.05,0.02,0.07,-0.06,0.00,-0.03,0.05,-0.09,0.03,-0.01,0.08,-0.04,0.01,-0.07,
 0.05,-0.02,0.03,-0.06,0.00,0.09,-0.05,0.02,-0.03,0.06,-0.08,0.01,0.04,-0.04,-0.01,0.07,-0.06,0.03,0.00,-0.02,
 -0.07,0.04,0.01,-0.05,0.08,-0.03,0.02,-0.09,0.05,0.00,-0.04,0.06,-0.01,0.03,-0.06,0.02,0.07,-0.08,0.04,-0.02,
 0.01,-0.06,0.05,-0.03,0.09,0.00,-0.07,0.03,-0.01,0.06,-0.05,0.02,-0.04,0.08,-0.02,0.04,-0.09,0.01,-0.03,0.05,
 -0.06,0.03,0.00,-0.08,0.07,-0.01,0.02,-0.05,0.04,-0.03,0.06,-0.07,0.01,0.05,-0.04,0.00,-0.02,0.09,-0.06,0.03,
 0.02,-0.04,0.06,-0.01,-0.08,0.04,0.00,-0.05,0.07,-0.03,0.01,-0.06,0.03,0.05,-0.09,0.02,-0.02,0.08,-0.04,0.00,
 -0.03,0.06,-0.07,0.02,0.04,-0.05,0.01,-0.01,0.09,-0.06,0.03,-0.04,0.00,0.07,-0.08,0.05,-0.02,0.01,-0.05,0.04,
 0.06,-0.03,0.00,-0.07,0.05,-0.02,0.03,-0.09,0.02,0.08,-0.04,0.01,-0.06,0.04,-0.01,0.06,-0.08,0.03,0.00,-0.05];
var resnet800 = [0.03,-0.02,0.05,-0.04,0.01,0.04,-0.05,0.02,0.06,-0.03,0.03,-0.01,0.05,-0.06,0.02,0.04,-0.03,0.01,0.06,-0.04,
 0.02,-0.05,0.04,0.03,-0.02,0.06,-0.04,0.01,0.05,-0.03,0.02,0.07,-0.05,0.03,-0.01,0.04,-0.06,0.02,0.05,-0.02,
 0.04,0.01,-0.04,0.06,-0.02,0.03,-0.05,0.05,0.02,-0.03,0.04,-0.06,0.01,0.05,-0.02,0.03,0.06,-0.04,0.02,-0.01,
 -0.05,0.04,0.02,-0.03,0.05,0.01,-0.06,0.03,0.04,-0.02,0.06,-0.04,0.02,0.03,-0.05,0.05,0.01,-0.03,0.04,0.02,
 0.06,-0.03,0.01,0.04,-0.05,0.02,0.05,-0.01,0.03,-0.06,0.04,0.02,-0.04,0.06,0.01,-0.02,0.05,-0.05,0.03,0.04,
 -0.02,0.05,-0.04,0.03,0.01,-0.06,0.04,0.06,-0.03,0.02,-0.01,0.05,0.03,-0.05,0.04,-0.02,0.01,0.06,-0.04,0.03,
 0.02,-0.04,0.06,0.01,-0.03,0.05,-0.05,0.03,0.02,-0.02,0.04,0.07,-0.06,0.03,0.01,-0.04,0.05,0.02,-0.01,0.04,
 -0.03,0.03,0.05,-0.05,0.02,0.04,-0.02,0.06,0.01,-0.04,0.03,-0.06,0.05,0.02,-0.03,0.04,0.01,-0.05,0.06,0.03,
 0.01,-0.02,0.04,0.05,-0.06,0.03,0.02,-0.04,0.06,-0.01,0.04,0.02,-0.05,0.03,0.05,-0.03,0.01,0.04,-0.02,0.06,
 -0.04,0.02,0.03,-0.05,0.05,0.01,-0.03,0.04,0.06,-0.02,0.03,-0.06,0.02,0.05,-0.04,0.01,0.04,-0.03,0.02,0.05,
 0.03,-0.05,0.06,0.02,-0.02,0.04,-0.04,0.01,0.05,-0.03,0.02,0.06,-0.06,0.03,0.04,-0.01,0.02,-0.05,0.05,0.03,
 -0.02,0.04,0.01,-0.04,0.06,0.03,-0.05,0.02,0.04,-0.01,0.05,-0.03,0.03,0.01,-0.06,0.04,0.02,-0.02,0.07,-0.04,
 0.05,0.02,-0.03,0.04,-0.05,0.06,0.01,-0.02,0.03,-0.04,0.05,0.02,-0.06,0.04,0.01,-0.03,0.06,0.03,-0.05,0.02,
 -0.01,0.05,-0.04,0.03,0.02,-0.06,0.04,0.05,-0.02,0.01,0.03,-0.05,0.06,0.02,-0.03,0.04,-0.01,0.05,-0.04,0.03,
 0.04,-0.03,0.02,0.06,-0.05,0.01,0.05,-0.02,0.03,-0.06,0.04,0.02,-0.01,0.05,-0.04,0.03,0.06,-0.03,0.01,0.04,
 -0.05,0.02,0.04,-0.02,0.06,0.03,-0.04,0.01,0.05,-0.03,0.02,0.04,-0.06,0.03,0.05,-0.01,0.02,-0.04,0.06,0.01,
 0.03,-0.04,0.05,0.02,-0.03,0.04,0.01,-0.05,0.06,0.03,-0.02,0.05,-0.04,0.02,0.04,-0.06,0.03,0.01,-0.02,0.05,
 -0.03,0.06,0.02,-0.05,0.04,0.01,-0.02,0.05,-0.04,0.03,0.06,-0.01,0.02,-0.05,0.04,0.03,-0.03,0.05,0.01,-0.06,
 0.04,0.02,-0.04,0.05,-0.01,0.03,0.06,-0.03,0.02,-0.05,0.04,0.01,-0.02,0.06,-0.04,0.03,0.05,-0.06,0.02,0.04,
 -0.02,0.05,0.03,-0.05,0.01,0.04,-0.03,0.06,0.02,-0.04,0.05,0.01,-0.06,0.03,0.04,-0.02,0.06,-0.05,0.02,0.03];

// each panel: list of sample runs spread over the whole x range
var errors = [
    [[agent200], [llm200], [resnet200]],
    [[agent400Core, agent400], [llm400Core, llm400], [resnet400]],
    [[agent600Core, agent600], [llm600Core, llm600], [resnet600]],
    [[agent800Core, agent800], [llm800Core, llm800], [resnet800]]
];
var maes = [maeAgent, maeLlm, maeResnet];
var uppers = [upperAgent, upperLlm, upperResnet];
var lowers = [lowerAgent, lowerLlm, lowerResnet];

// colours per model row
var rowStyle = [
    { bg: '#d6eef2', fill: '#ff8c1a', edge: '#ffb866' },
    { bg: '#d9eed9', fill: '#f04f70', edge: '#f8a0b2' },
    { bg: '#f9e2df', fill: '#5ac6d2', edge: '#a9e3e9' }
];
var blue = '#1f1fe6';
var serif = '"Liberation Serif", "Times New Roman", serif';

// background + MAE text + bound labels
var panelDeco = {
    id: 'panelDeco',
    beforeDraw: function(chart, args, opts) {
        var a = chart.chartArea, ctx = chart.ctx;
        ctx.save();
        ctx.fillStyle = opts.bg;
        ctx.fillRect(a.left, a.top, a.right - a.left, a.bottom - a.top);
        ctx.restore();
    },
    afterDraw: function(chart, args, opts) {
        var a = chart.chartArea, ctx = chart.ctx;
        var y0 = chart.scales.y.getPixelForValue(0);
        ctx.save();
        ctx.fillStyle = blue;
        ctx.font = 'bold 11.5px ' + serif;
        ctx.textAlign = 'left';
        ctx.textBaseline = 'alphabetic';
        ctx.fillText('MAE: ' + opts.mae.toFixed(4), a.left + 2, a.bottom - 2);
        ctx.textAlign = 'right';
        ctx.textBaseline = 'middle';
        ctx.fillText(opts.up.toFixed(3), a.right + 30, y0 - 16);
        ctx.fillText(opts.low.toFixed(3), a.right + 30, y0 + 16);
        ctx.restore();
    }
};

var groupTop = [0, 401];
for (var f = 0; f < 4; f++) {
    for (var m = 0; m < 3; m++) {
        var pts = [];
        errors[f][m].forEach(function(arr) {
            arr.forEach(function(v, i) { pts.push({ x: (i + 0.5) / arr.length, y: v }); });
        });
        var st = rowStyle[m];
        var cv = document.createElement('canvas');
        cv.width = 332;
        cv.height = 119;
        cv.style.left = (f % 2) * 354 + 'px';
        cv.style.top = groupTop[f >> 1] + m * 119 + 'px';
        document.body.appendChild(cv);

        var up = uppers[m][f], low = lowers[m][f];
        var lineOrder = f === 0 ? 2 : 0;
        new Chart(cv, {
            type: 'scatter',
            data: {
                datasets: [{
                    data: pts,
                    backgroundColor: st.fill,
                    borderColor: st.edge,
                    borderWidth: 0.6,
                    pointRadius: 2.6,
                    order: 1
                }, {
                    type: 'line',
                    data: [{ x: 0, y: up }, { x: 1, y: up }],
                    borderColor: blue,
                    borderWidth: 1.8,
                    borderDash: [5, 3],
                    pointRadius: 0,
                    order: lineOrder
                }, {
                    type: 'line',
                    data: [{ x: 0, y: low }, { x: 1, y: low }],
                    borderColor: blue,
                    borderWidth: 1.8,
                    borderDash: [5, 3],
                    pointRadius: 0,
                    order: lineOrder
                }]
            },
            options: {
                responsive: false,
                animation: false,
                devicePixelRatio: 1,
                layout: { padding: { left: 0, right: 36, top: 7, bottom: 0 } },
                plugins: {
                    legend: { display: false },
                    tooltip: { enabled: false },
                    panelDeco: { bg: st.bg, mae: maes[m][f], up: up, low: low }
                },
                scales: {
                    x: {
                        type: 'linear',
                        min: 0,
                        max: 1,
                        grid: { display: false },
                        border: { display: true, color: '#333', width: 1.3 },
                        ticks: { display: false },
                        title: {
                            display: true,
                            text: models[m] + ' (' + freqs[f] + ')',
                            color: '#222',
                            font: { family: serif, size: 12, weight: 'bold' },
                            padding: { top: 0, bottom: 1.8 }
                        },
                        afterFit: function(s) { s.height = 21; }
                    },
                    y: {
                        min: -0.4,
                        max: 0.4,
                        afterBuildTicks: function(s) {
                            var t = [];
                            for (var k = 0; k < yTicks.length; k++) {
                                t.push({ value: yTicks[k] });
                                if (k < yTicks.length - 1) t.push({ value: (yTicks[k] + yTicks[k + 1]) / 2, minor: true });
                            }
                            s.ticks = t;
                        },
                        grid: { drawOnChartArea: false, drawTicks: true, tickLength: 4, color: '#333', tickWidth: 1.2 },
                        border: { display: true, color: '#333', width: 1.3 },
                        ticks: {
                            padding: 2,
                            color: '#222',
                            font: { family: serif, size: 11, weight: 'bold' },
                            callback: function(v) {
                                if (yTicks.indexOf(Math.round(v * 10) / 10) < 0) return '';
                                return Math.abs(v) < 1e-9 ? '0.0' : v.toFixed(1);
                            }
                        },
                        title: {
                            display: true,
                            text: 'Absolute error',
                            color: '#222',
                            font: { family: serif, size: 12.5, weight: 'bold' },
                            padding: { top: 2.5, bottom: 0 }
                        },
                        afterFit: function(s) { s.width = 42; }
                    }
                }
            },
            plugins: [panelDeco]
        });
    }
}
</script>
</body>
</html>
